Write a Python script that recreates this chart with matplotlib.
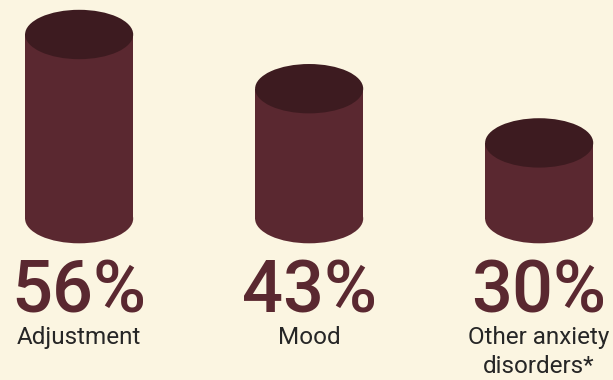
import matplotlib
matplotlib.use("Agg")
import matplotlib.pyplot as plt
from matplotlib.patches import Ellipse, Rectangle

# Share of cases by diagnosis
categories = ["Adjustment", "Mood", "Other anxiety\ndisorders*"]
values = [56, 43, 30]
value_labels = ["56%", "43%", "30%"]

BG = "#FBF5E1"
SIDE = "#5A2830"
TOP = "#3D1B20"
TEXT = "#262626"

fig = plt.figure(figsize=(6.13, 3.80), dpi=100, facecolor=BG)
ax = fig.add_axes([0, 0, 1, 1])
ax.set_facecolor(BG)
ax.set_xlim(-0.344, 2.321)
ax.set_ylim(-32.78, 58.35)
ax.axis("off")

width = 0.47      # cylinder diameter in x units
cap = 5.92        # half-height of the elliptical ends in y units
line_step = 6.95  # distance between label lines in y units

for i, (cat, v, lab) in enumerate(zip(categories, values, value_labels)):
    # body: bottom ellipse + rectangle, then darker top ellipse
    ax.add_patch(Ellipse((i, cap), width, 2 * cap, facecolor=SIDE,
                         edgecolor="none", zorder=2))
    ax.add_patch(Rectangle((i - width / 2, cap), width, v - 2 * cap,
                           facecolor=SIDE, edgecolor="none", zorder=2))
    ax.add_patch(Ellipse((i, v - cap), width, 2 * cap, facecolor=TOP,
                         edgecolor="none", zorder=3))

    ax.text(i, -16.7, lab, ha="center", va="baseline", fontsize=52,
            family="Roboto", fontweight="medium", color=SIDE)
    for j, line in enumerate(cat.split("\n")):
        ax.text(i, -24.1 - j * line_step, line, ha="center", va="baseline",
                fontsize=17.5, family="Roboto", color=TEXT)

fig.savefig("out.png", dpi=100, facecolor=BG)
